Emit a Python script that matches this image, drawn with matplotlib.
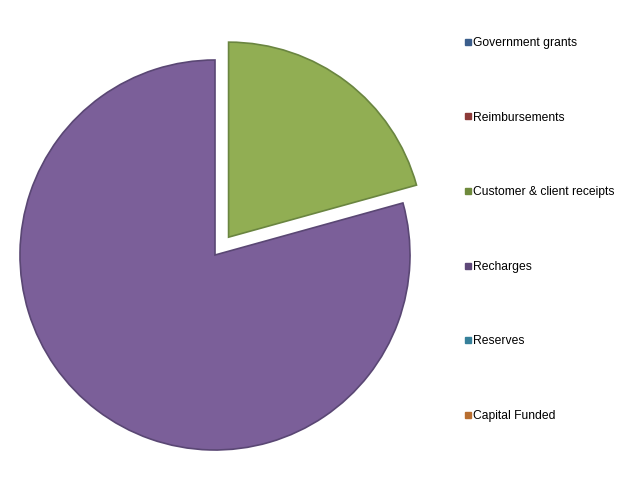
import matplotlib.pyplot as plt
from matplotlib.lines import Line2D

labels = ['Government grants', 'Reimbursements', 'Customer & client receipts',
          'Recharges', 'Reserves', 'Capital Funded']
values = [0, 0, 20.7, 79.3, 0, 0]
colors = ['#4F81BD', '#C0504D', '#91AE53', '#7B5F99', '#4BACC6', '#F79646']
marker_colors = ['#3B5E8C', '#8C3A38', '#6F8A3C', '#5E4878', '#36809A', '#B86E30']
explode = [0, 0, 0.115, 0, 0, 0]

plt.rcParams['font.family'] = ['Liberation Sans', 'DejaVu Sans']

fig = plt.figure(figsize=(6.37, 4.84), dpi=100)
ax = fig.add_axes([20 / 637, 34 / 484, 390 / 637, 390 / 484])

wedges, _ = ax.pie(values, colors=colors, explode=explode, startangle=90,
                   counterclock=False, radius=1,
                   wedgeprops=dict(linewidth=1.2, edgecolor='#5a4a70'))
edge_cols = ['#3B5E8C', '#8C3A38', '#6a8540', '#5a4774', '#36809A', '#B86E30']
for w, ec, v in zip(wedges, edge_cols, values):
    w.set_clip_on(False)
    w.set_edgecolor(ec)
    if v == 0:
        w.set_linewidth(0)
ax.set_xlim(-1, 1)
ax.set_ylim(-1, 1)
ax.set_aspect('equal')
ax.axis('off')

handles = [Line2D([], [], marker='s', linestyle='none', markersize=4.8,
                  markerfacecolor=c, markeredgecolor=c) for c in marker_colors]
fig.legend(handles, labels, loc='upper left', bbox_to_anchor=(465 / 637, 1 - 37 / 484),
           frameon=False, fontsize=8.7, labelspacing=5.18, handlelength=0.55,
           handletextpad=0.1, borderaxespad=0, borderpad=0)

fig.savefig('out.png', dpi=100)
